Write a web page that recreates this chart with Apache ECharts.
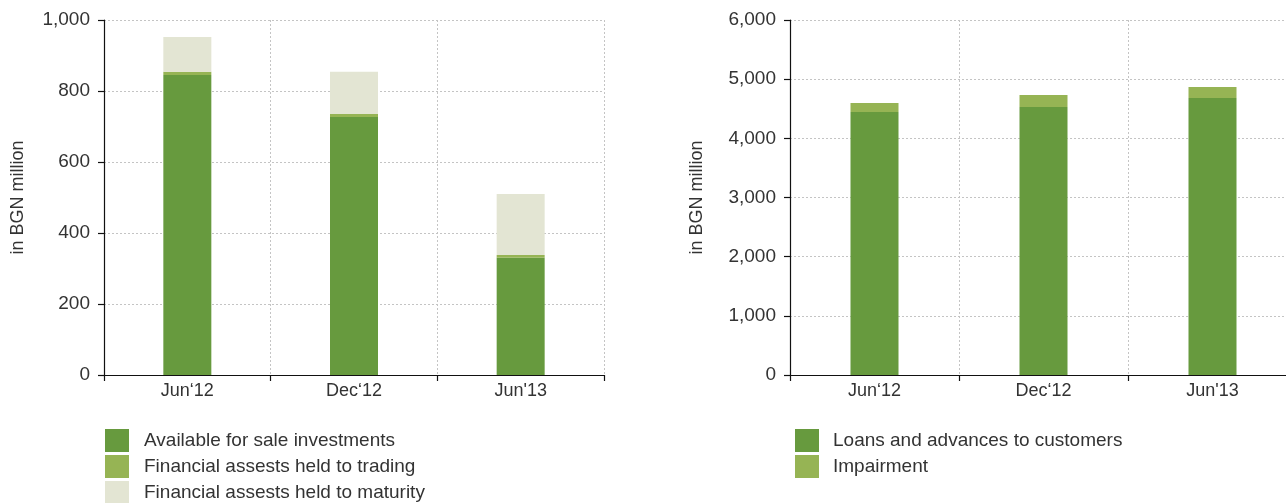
<!DOCTYPE html>
<html>
<head>
<meta charset="utf-8">
<script src="https://cdn.jsdelivr.net/npm/echarts@6/dist/echarts.min.js"></script>
<style>
  html, body { margin: 0; padding: 0; background: #fff; overflow: hidden; }
  #chart { width: 1300px; height: 503px; }
</style>
</head>
<body>
<div id="chart"></div>
<script>
// Periods shown on both panels
const periods = ['Jun‘12', 'Dec‘12', 'Jun\'13'];

// Securities portfolio, BGN million
const availableForSale = [845, 727, 330];
const heldForTrading = [9, 8, 8];
const heldToMaturity = [98, 119, 172];

// Loan book, BGN million
const loansToCustomers = [4445, 4529, 4681];
const impairment = [152, 203, 186];

const unitLabel = 'in BGN million';
const COLORS = { dark: '#679a3e', mid: '#96b454', pale: '#e3e5d3' };
const FONT = 'Liberation Sans, Arial, sans-serif';
const TEXT = '#333';
const GRID_LINE = { color: '#c4c4c4', type: [2, 2], width: 1 };

function xAxisCfg(idx) {
  return {
    type: 'category', gridIndex: idx, data: periods,
    axisLine: { lineStyle: { color: '#111', width: 1.2 } },
    axisTick: { show: true, length: 6, lineStyle: { color: '#111', width: 1.2 } },
    axisLabel: { color: TEXT, fontSize: 18, fontFamily: FONT, margin: 7 },
    splitLine: { show: true, lineStyle: GRID_LINE }
  };
}
function yAxisCfg(idx, max, interval, nameGap) {
  return {
    type: 'value', gridIndex: idx, min: 0, max: max, interval: interval,
    name: unitLabel, nameLocation: 'middle', nameGap: nameGap,
    nameTextStyle: { color: TEXT, fontSize: 18, fontFamily: FONT },
    axisLine: { show: true, lineStyle: { color: '#111', width: 1.2 } },
    axisTick: { show: true, length: 6, lineStyle: { color: '#111', width: 1.2 } },
    axisLabel: {
      color: TEXT, fontSize: 19, fontFamily: FONT, margin: 14,
      formatter: v => v.toLocaleString('en-US')
    },
    splitLine: { show: true, lineStyle: GRID_LINE }
  };
}
function bar(name, data, color, idx, stack) {
  return {
    name, type: 'bar', data, stack, xAxisIndex: idx, yAxisIndex: idx,
    barWidth: 48, itemStyle: { color }, emphasis: { disabled: true }
  };
}
function legendCfg(names, left, textPad) {
  return {
    data: names, orient: 'vertical', left: left, top: 429, height: 120, padding: 0,
    itemWidth: 24, itemHeight: 23, itemGap: 3, icon: 'rect', selectedMode: false,
    textStyle: { color: TEXT, fontSize: 19, fontFamily: FONT, padding: [0, 0, 0, textPad] }
  };
}

const chart = echarts.init(document.getElementById('chart'), null, { renderer: 'canvas' });
chart.setOption({
  animation: false,
  backgroundColor: '#fff',
  grid: [
    { left: 104, top: 20, width: 500, height: 355 },
    { left: 790, top: 20, width: 507, height: 355 }
  ],
  xAxis: [xAxisCfg(0), xAxisCfg(1)],
  yAxis: [yAxisCfg(0, 1000, 200, 77), yAxisCfg(1, 6000, 1000, 84)],
  legend: [
    legendCfg(['Available for sale investments', 'Financial assests held to trading', 'Financial assests held to maturity'], 105, 10),
    legendCfg(['Loans and advances to customers', 'Impairment'], 795, 9)
  ],
  series: [
    bar('Available for sale investments', availableForSale, COLORS.dark, 0, 'sec'),
    bar('Financial assests held to trading', heldForTrading, COLORS.mid, 0, 'sec'),
    bar('Financial assests held to maturity', heldToMaturity, COLORS.pale, 0, 'sec'),
    bar('Loans and advances to customers', loansToCustomers, COLORS.dark, 1, 'loans'),
    bar('Impairment', impairment, COLORS.mid, 1, 'loans')
  ]
});
</script>
</body>
</html>
